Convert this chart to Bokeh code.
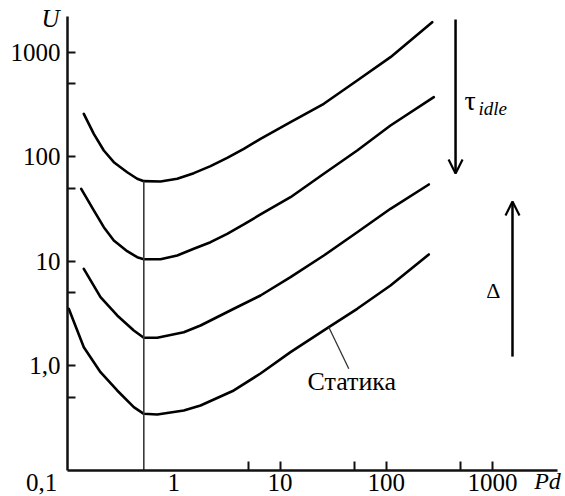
from bokeh.plotting import figure
from bokeh.models import FixedTicker, Label, Arrow, OpenHead, Range1d
from bokeh.embed import file_html
from bokeh.resources import INLINE

# ---- data ----
c1_x = [0.1424, 0.1768, 0.2196, 0.2728, 0.3646, 0.4529, 0.5226, 0.7505, 1.078, 1.544,
        2.218, 3.184, 4.563, 6.553, 12.56, 25.84, 53.29, 109.6, 270.7]
c1_y = [259, 166.7, 115.4, 89.2, 71.5, 61.9, 58.7, 58.3, 61.9, 70.0,
        81.7, 98.2, 119.8, 149.4, 215.3, 322.9, 539.5, 901.6, 1950]

c2_x = [0.1346, 0.1768, 0.2196, 0.2728, 0.3646, 0.4529, 0.5226, 0.7505, 1.078, 1.544,
        2.218, 3.184, 4.563, 6.553, 12.56, 25.84, 53.29, 109.6, 280.2]
c2_y = [49.6, 30.8, 21.3, 15.9, 12.55, 10.99, 10.52, 10.52, 11.41, 13.23,
        15.30, 18.41, 22.6, 28.2, 41.2, 69.1, 115.4, 200.1, 373.4]

c3_x = [0.1424, 0.2045, 0.2936, 0.4207, 0.5226, 0.6985, 1.243, 1.786, 3.675, 6.553,
        12.56, 25.84, 53.29, 109.6, 251.5]
c3_y = [8.51, 4.555, 3.043, 2.187, 1.862, 1.862, 2.106, 2.441, 3.527, 4.727,
        7.077, 11.41, 19.07, 31.94, 54.56]

c4_x = [0.1028, 0.1424, 0.2045, 0.2936, 0.4207, 0.5226, 0.6985, 1.243, 1.786, 3.675,
        6.553, 12.56, 28.8, 53.29, 109.6, 251.5]
c4_y = [3.527, 1.514, 0.8724, 0.5831, 0.4034, 0.3488, 0.3435, 0.3752, 0.4188, 0.5831,
        0.8476, 1.356, 2.351, 3.527, 5.893, 11.67]

vline_x = 0.5226
vline_top = 58.7

y_major = [1, 10, 100, 1000]
y_minor = [0.5, 5, 50, 500]
y_labels = {1: "1,0", 10: "10", 100: "100", 1000: "1000"}
x_major = [1, 10, 100, 1000]
x_marks = [5, 10, 50, 100, 500, 1000]
x_labels = {1: "1", 10: "10", 100: "100", 1000: "1000"}

X_MIN, X_MAX = 0.1, 4090      # axis extent
Y_MIN, Y_MAX = 0.1, 2210

FONT = "Liberation Serif"

# the frame fills the whole page; the axes sit at fixed data locations inside it
p = figure(width=565, height=496, x_axis_type="log", y_axis_type="log",
           x_range=Range1d(0.02341, 4864), y_range=Range1d(0.05638, 3144),
           output_backend="svg", toolbar_location=None,
           min_border_left=0, min_border_right=0, min_border_top=0,
           min_border_bottom=0)
p.outline_line_color = None
p.grid.visible = False
p.background_fill_color = "white"
p.border_fill_color = "white"

# y axis
ya = p.yaxis[0]
ya.fixed_location = X_MIN
ya.bounds = (Y_MIN, Y_MAX)
ya.ticker = FixedTicker(ticks=y_major, minor_ticks=y_minor)
ya.major_label_overrides = y_labels
ya.major_label_text_font = FONT
ya.major_label_text_font_size = "25px"
ya.major_label_text_color = "black"
ya.major_label_standoff = 7
ya.major_tick_in = 8
ya.major_tick_out = 0
ya.minor_tick_in = 8
ya.minor_tick_out = 0
ya.axis_line_width = 2.5
ya.major_tick_line_width = 2
ya.minor_tick_line_width = 2
ya.axis_line_color = "#111111"
ya.major_tick_line_color = "#111111"
ya.minor_tick_line_color = "#111111"

# x axis: labelled at 1..1000, tick marks at 5, 10, 50, 100, 500, 1000
xa = p.xaxis[0]
xa.fixed_location = Y_MIN
xa.bounds = (X_MIN, X_MAX)
xa.ticker = FixedTicker(ticks=x_major, minor_ticks=x_marks)
xa.major_label_overrides = x_labels
xa.major_label_text_font = FONT
xa.major_label_text_font_size = "25px"
xa.major_label_text_color = "black"
xa.major_label_standoff = 4
xa.major_tick_in = 0
xa.major_tick_out = 0
xa.major_tick_line_color = None
xa.minor_tick_in = 9
xa.minor_tick_out = 0
xa.axis_line_width = 2.5
xa.minor_tick_line_width = 2
xa.axis_line_color = "#111111"
xa.minor_tick_line_color = "#111111"

# curves
for cx, cy in [(c1_x, c1_y), (c2_x, c2_y), (c3_x, c3_y), (c4_x, c4_y)]:
    p.line(cx, cy, line_color="black", line_width=2.6, line_join="round", line_cap="round")

# vertical line at minimum
p.segment(x0=[vline_x], y0=[Y_MIN], x1=[vline_x], y1=[vline_top], line_color="#3a3a3a", line_width=1.6)

# leader line for "Статика"
p.segment(x0=[28.8], y0=[2.351], x1=[44.4], y1=[0.94], line_color="#333333", line_width=1.3)

# arrows
p.add_layout(Arrow(end=OpenHead(size=14, line_width=2.2, line_color="black"),
                   x_start=449, y_start=2070, x_end=449, y_end=69.5,
                   line_width=2.5, line_color="black"))
p.add_layout(Arrow(end=OpenHead(size=14, line_width=2.2, line_color="black"),
                   x_start=1542, y_start=1.23, x_end=1542, y_end=37.5,
                   line_width=2.5, line_color="black"))

# corner label and axis names
p.add_layout(Label(x=X_MIN, y=Y_MIN, text="0,1", text_font=FONT, text_font_size="25px",
                   text_align="center", text_baseline="top", x_offset=-26, y_offset=-4,
                   text_color="black"))
p.add_layout(Label(x=3296, y=Y_MIN, text="Pd", text_font=FONT, text_font_size="24px",
                   text_font_style="italic", text_align="center", text_baseline="top",
                   y_offset=2, text_color="black"))
p.add_layout(Label(x=X_MIN, y=2116, text="U", text_font=FONT, text_font_size="25px",
                   text_font_style="italic", text_align="center", text_baseline="middle",
                   x_offset=-17, text_color="black"))
# annotations
p.add_layout(Label(x=449, y=347, text="τ", text_font=FONT, text_font_size="28px",
                   text_align="left", text_baseline="middle", x_offset=9,
                   text_color="black"))
p.add_layout(Label(x=449, y=347, text="idle", text_font=FONT, text_font_size="19px",
                   text_font_style="italic", text_align="left", text_baseline="middle",
                   x_offset=23, y_offset=-8, text_color="black"))
p.add_layout(Label(x=1542, y=5.28, text="Δ", text_font=FONT, text_font_size="22px",
                   text_align="right", text_baseline="middle", x_offset=-12,
                   text_color="black"))
p.add_layout(Label(x=44.4, y=0.94, text="Статика", text_font=FONT, text_font_size="26px",
                   text_align="center", text_baseline="top", x_offset=3, y_offset=2,
                   text_color="black"))

open("out.html", "w").write(file_html(p, INLINE))
